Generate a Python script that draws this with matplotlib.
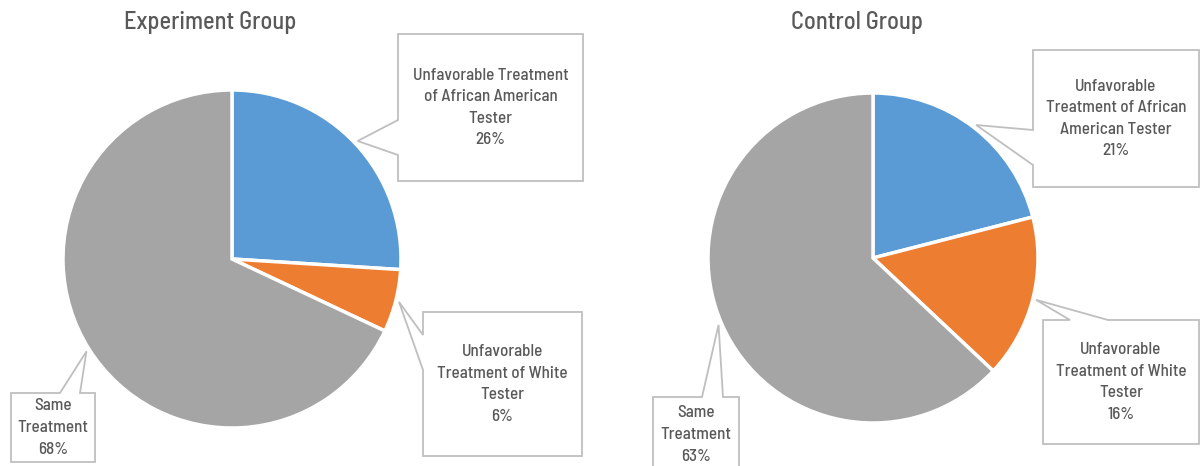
import numpy as np
import matplotlib
matplotlib.use("Agg")
import matplotlib.pyplot as plt
from matplotlib import font_manager
from matplotlib.patches import Polygon

# ---------------- data ----------------
titles = ["Experiment Group", "Control Group"]
categories = ["African American", "White", "Same"]
experiment_values = [26, 6, 68]
control_values = [21, 16, 63]
experiment_labels = ["Unfavorable Treatment\nof African American\nTester",
                     "Unfavorable\nTreatment of White\nTester",
                     "Same\nTreatment"]
control_labels = ["Unfavorable\nTreatment of African\nAmerican Tester",
                  "Unfavorable\nTreatment of White\nTester",
                  "Same\nTreatment"]
colors = ["#5B9BD5", "#ED7D31", "#A5A5A5"]

# ---------------- fonts ----------------
names = {f.name for f in font_manager.fontManager.ttflist}
FONT = dict(family="DejaVu Sans", stretch="condensed")
for cand in ["Barlow Semi Condensed", "Archivo Narrow", "Liberation Sans Narrow"]:
    if cand in names:
        FONT = dict(family=cand, weight="medium")
        break
TXT = "#595959"

W, H = 1201, 466
fig = plt.figure(figsize=(W / 100, H / 100), dpi=100)

# overlay axes in pixel coordinates (origin top-left)
ov = fig.add_axes([0, 0, 1, 1], zorder=5)
ov.set_xlim(0, W)
ov.set_ylim(H, 0)
ov.axis("off")
ov.patch.set_alpha(0)

# pie layout: center (px), radius (px)
pies = [
    dict(center=(232, 259), r=169, values=experiment_values, labels=experiment_labels,
         title_xy=(210, 23),
         boxes=[dict(box=(398, 34, 583, 181), side="left", base=(120, 155)),
                dict(box=(423, 312, 582, 456), side="left", base=(335, 370)),
                dict(box=(11, 393, 95, 462), side="top", base=(60, 80))]),
    dict(center=(873, 258), r=165, values=control_values, labels=control_labels,
         title_xy=(857, 23),
         boxes=[dict(box=(1033, 50, 1199, 187), side="left", base=(130, 165)),
                dict(box=(1043, 320, 1199, 444), side="top", base=(1070, 1108)),
                dict(box=(653, 397, 739, 470), side="top", base=(702, 723))]),
]

for i, p in enumerate(pies):
    cx, cy = p["center"]
    r = p["r"]
    ax = fig.add_axes([(cx - r) / W, (H - cy - r) / H, 2 * r / W, 2 * r / H])
    wedges, _ = ax.pie(p["values"], colors=colors, startangle=90, counterclock=False,
                       radius=1.0,
                       wedgeprops=dict(edgecolor="white", linewidth=2.5))
    ax.set_xlim(-1, 1)
    ax.set_ylim(-1, 1)
    ax.set_aspect("auto")
    ax.axis("off")

    ov.text(p["title_xy"][0], p["title_xy"][1], titles[i],
            ha="center", va="center", fontsize=17.5, color=TXT, **FONT)

    for w, lab, v, b in zip(wedges, p["labels"], p["values"], p["boxes"]):
        mid = np.deg2rad((w.theta1 + w.theta2) / 2)
        tip_r = 1.02
        tx = cx + r * tip_r * np.cos(mid)
        ty = cy - r * tip_r * np.sin(mid)
        x0, y0, x1, y1 = b["box"]
        b0, b1 = b["base"]
        if b["side"] == "left":
            pts = [(x0, y0), (x1, y0), (x1, y1), (x0, y1), (x0, b1), (tx, ty), (x0, b0)]
        else:  # top
            pts = [(x0, y0), (b0, y0), (tx, ty), (b1, y0), (x1, y0), (x1, y1), (x0, y1)]
        poly = Polygon(pts, closed=True, facecolor="white", edgecolor="#BFBFBF",
                       linewidth=1.3, joinstyle="miter")
        ov.add_patch(poly)
        yc = (y0 + y1) / 2 if y1 <= H else (y0 + H) / 2 + 3
        ov.text((x0 + x1) / 2, yc, f"{lab}\n{v}%", ha="center", va="center",
                fontsize=12.3, color=TXT, linespacing=1.55, **FONT)

fig.savefig("out.png", dpi=100)
